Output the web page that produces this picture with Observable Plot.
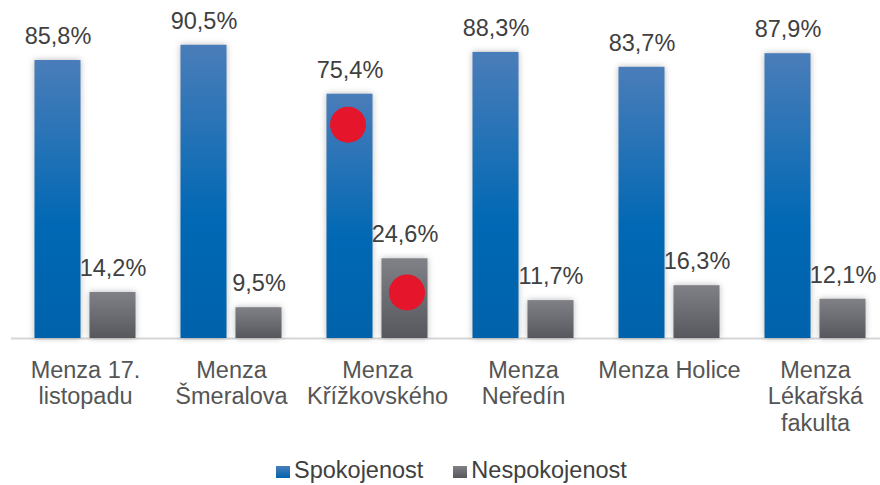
<!DOCTYPE html>
<html>
<head>
<meta charset="utf-8">
<script src="https://cdn.jsdelivr.net/npm/d3@7"></script>
<script src="https://cdn.jsdelivr.net/npm/@observablehq/plot@0.6"></script>
<style>
  html, body { margin: 0; padding: 0; background: #fff; }
  body { width: 880px; height: 485px; overflow: hidden; font-family: "Liberation Sans", Arial, sans-serif; }
  #chart svg { display: block; }
  #legend { height: 30px; line-height: 30px; padding-left: 276px; font-size: 23.5px; color: #404040; white-space: nowrap; }
  #legend .item { display: inline-block; margin-right: 30px; }
  #legend .sw { display: inline-block; width: 14px; height: 12px; margin-right: 4px; vertical-align: baseline; }
</style>
</head>
<body>
<div id="chart"></div>
<div id="legend"></div>
<script>
// ---- data ----
const categories = ["Menza 17.\nlistopadu", "Menza\nŠmeralova", "Menza\nKřížkovského", "Menza\nNeředín", "Menza Holice", "Menza\nLékařská\nfakulta"];
const seriesNames = ["Spokojenost", "Nespokojenost"];
const spokojenost = [85.8, 90.5, 75.4, 88.3, 83.7, 87.9];
const nespokojenost = [14.2, 9.5, 24.6, 11.7, 16.3, 12.1];
// red highlight markers (category, series, value position)
const markerCategory = ["Menza\nKřížkovského", "Menza\nKřížkovského"];
const markerSeries = ["Spokojenost", "Nespokojenost"];
const markerValue = [66, 14.2];

// ---- tables built from the arrays ----
const blueData = categories.map((c, i) => ({category: c, series: seriesNames[0], value: spokojenost[i]}));
const grayData = categories.map((c, i) => ({category: c, series: seriesNames[1], value: nespokojenost[i]}));
const markers = markerCategory.map((c, i) => ({category: c, series: markerSeries[i], value: markerValue[i]}));
const fmt = v => v.toFixed(1).replace(".", ",") + "%";

const BAR_DX = 27.5;
const font = 23.5;

const plot = Plot.plot({
  width: 880,
  height: 455,
  marginTop: 14,
  marginBottom: 117,
  marginLeft: 11,
  marginRight: 0,
  style: { fontFamily: "Liberation Sans, Arial, sans-serif", background: "transparent", overflow: "visible" },
  x: { type: "band", domain: categories, range: [11.5, 887.5], padding: 0, axis: null },
  y: { domain: [0, 100], axis: null },
  marks: [
    Plot.ruleY([0], { stroke: "#d6d6d6", strokeWidth: 2 }),
    Plot.barY(blueData, { x: "category", y: "value", fill: "url(#gradBlue)", insetLeft: 22.5, insetRight: 77.5 }),
    Plot.barY(grayData, { x: "category", y: "value", fill: "url(#gradGray)", insetLeft: 77.5, insetRight: 22.5 }),
    Plot.dot(markers.filter(d => d.series === seriesNames[0]), { x: "category", y: "value", r: 18, fill: "#e5152b", dx: -BAR_DX - 2 }),
    Plot.dot(markers.filter(d => d.series === seriesNames[1]), { x: "category", y: "value", r: 18, fill: "#e5152b", dx: BAR_DX + 2 }),
    Plot.text(blueData, { x: "category", y: "value", text: d => fmt(d.value), dx: -BAR_DX, dy: -16.5, lineAnchor: "bottom", fontSize: font, fill: "#404040" }),
    Plot.text(grayData, { x: "category", y: "value", text: d => fmt(d.value), dx: BAR_DX, dy: -16.5, lineAnchor: "bottom", fontSize: font, fill: "#404040" }),
    Plot.text(categories, { x: d => d, text: d => d, frameAnchor: "bottom", lineAnchor: "top", dy: 20.5, fontSize: font, lineHeight: 1.13, fill: "#555555" })
  ]
});

// gradients and shadow
const svg = d3.select(plot);
const defs = svg.insert("defs", ":first-child");
const gb = defs.append("linearGradient").attr("id", "gradBlue").attr("x1", 0).attr("y1", 0).attr("x2", 0).attr("y2", 1);
gb.append("stop").attr("offset", "0%").attr("stop-color", "#4a7db9");
gb.append("stop").attr("offset", "60%").attr("stop-color", "#0068b4");
gb.append("stop").attr("offset", "100%").attr("stop-color", "#0062ab");
const gg = defs.append("linearGradient").attr("id", "gradGray").attr("x1", 0).attr("y1", 0).attr("x2", 0).attr("y2", 1);
gg.append("stop").attr("offset", "0%").attr("stop-color", "#808186");
gg.append("stop").attr("offset", "100%").attr("stop-color", "#57585d");
svg.selectAll("g[aria-label='bar'] rect").style("filter", "drop-shadow(0px 0px 3px rgba(0,0,0,0.28))");

document.getElementById("chart").appendChild(plot);

// legend
const legend = d3.select("#legend");
const swatchBg = ["linear-gradient(#4a7db9, #0065b0)", "linear-gradient(#808186, #57585d)"];
seriesNames.forEach((s, i) => {
  const it = legend.append("span").attr("class", "item");
  it.append("span").attr("class", "sw").style("background", swatchBg[i]);
  it.append("span").text(s);
});
</script>
</body>
</html>
